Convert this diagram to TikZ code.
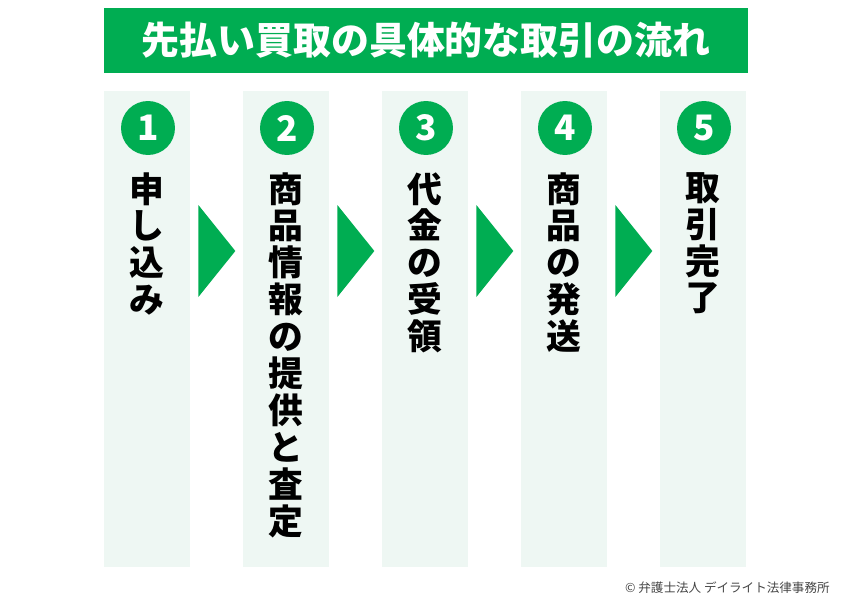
\documentclass[tikz,border=0pt]{standalone}
\usepackage{fontspec}
\newfontfamily\jpfont{Noto Sans CJK JP}
\usetikzlibrary{calc}

\definecolor{flowgreen}{RGB}{0,173,82}
\definecolor{mintbg}{RGB}{238,247,243}
\definecolor{creditgray}{RGB}{70,70,70}

\begin{document}
\begin{tikzpicture}[x=0.02cm, y=-0.02cm,
  panel/.style={fill=mintbg, minimum width=1.72cm, minimum height=9.52cm, inner sep=0pt},
  numdot/.style={circle, fill=flowgreen, minimum size=1.08cm, inner sep=0pt, text=white,
    font=\jpfont\bfseries\fontsize{20}{20}\selectfont},
  steptext/.style={anchor=north, align=center, inner sep=0pt,
    font=\jpfont\bfseries\fontsize{19.8}{21}\selectfont},
  flowarrow/.style={fill=flowgreen}]

% Fix the page size
\useasboundingbox (0,0) rectangle (850,605);

% Title bar
\node[fill=flowgreen, minimum width=12.88cm, minimum height=1.3cm, inner sep=0pt, text=white,
  font=\jpfont\bfseries\fontsize{21.6}{22}\selectfont] (title) at (426,40.5) {先払い買取の具体的な取引の流れ};

% Define panels
\node[panel] (p1) at (147,329) {};
\node[panel] (p2) at (286,329) {};
\node[panel] (p3) at (425,329) {};
\node[panel] (p4) at (564,329) {};
\node[panel] (p5) at (703,329) {};

% Step numbers
\node[numdot] (n1) at (148,128) {1};
\node[numdot] (n2) at (287,128) {2};
\node[numdot] (n3) at (426,128) {3};
\node[numdot] (n4) at (565,128) {4};
\node[numdot] (n5) at (704,128) {5};

% Step texts (vertical)
\node[steptext] (t1) at (147,172) {申\\し\\込\\み};
\node[steptext] (t2) at (286,172) {商\\品\\情\\報\\の\\提\\供\\と\\査\\定};
\node[steptext] (t3) at (425,172) {代\\金\\の\\受\\領};
\node[steptext] (t4) at (564,172) {商\\品\\の\\発\\送};
\node[steptext] (t5) at (703,172) {取\\引\\完\\了};

% Arrows between panels
\fill[flowarrow] ($(p1.east)+(8,-124)$) -- ($(p1.east)+(45,-78)$) -- ($(p1.east)+(8,-32)$) -- cycle;
\fill[flowarrow] ($(p2.east)+(8,-124)$) -- ($(p2.east)+(45,-78)$) -- ($(p2.east)+(8,-32)$) -- cycle;
\fill[flowarrow] ($(p3.east)+(8,-124)$) -- ($(p3.east)+(45,-78)$) -- ($(p3.east)+(8,-32)$) -- cycle;
\fill[flowarrow] ($(p4.east)+(8,-124)$) -- ($(p4.east)+(45,-78)$) -- ($(p4.east)+(8,-32)$) -- cycle;

% Credit
\node[anchor=east, inner sep=0pt, text=creditgray, font=\jpfont\fontsize{7.15}{8}\selectfont] (credit) at (830,588) {© 弁護士法人 デイライト法律事務所};

\end{tikzpicture}
\end{document}
